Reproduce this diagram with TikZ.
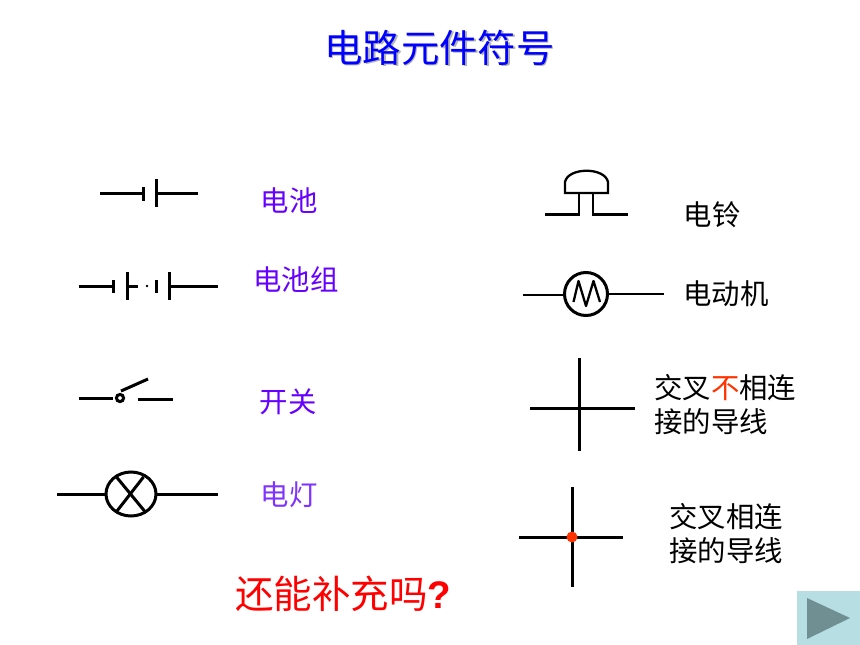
\documentclass[tikz,border=0pt]{standalone}
\usepackage{fontspec}
\setmainfont{Liberation Sans}
\newfontfamily\cjk{Noto Sans CJK SC}
\usetikzlibrary{shapes}
\definecolor{violetblue}{HTML}{6600FF}
\definecolor{lightviolet}{HTML}{7F33FF}
\definecolor{darkred}{HTML}{FF3300}
\definecolor{buttonbg}{HTML}{B7DEE2}
\definecolor{buttonfg}{HTML}{6F8F93}
\tikzset{
  wire/.style={line width=3pt},
  thinwire/.style={line width=2.3pt},
  namelabel/.style={inner sep=0pt,font=\fontsize{28.4}{28.4}\selectfont\cjk},
  blacklabel/.style={namelabel,anchor=west,align=left},
}
\begin{document}
\begin{tikzpicture}[x=1pt,y=-1pt]
\useasboundingbox (0,0) rectangle (860,645);

\node[inner sep=0pt,font=\fontsize{38.4}{38.4}\selectfont\cjk,text=black!30] (titleshadow) at (441,49) {电路元件符号};
\node[inner sep=0pt,font=\fontsize{38.4}{38.4}\selectfont\cjk,text=blue] (title) at (439.5,47.5) {电路元件符号};

% battery
\draw[wire] (100,193) -- (143,193);
\draw[wire] (143,187) -- (143,201);
\draw[wire] (156,179) -- (156,207);
\draw[wire] (156,193) -- (198,193);
\node[namelabel,text=violetblue] (battery) at (289,201) {电池};

% battery group
\draw[wire] (79,286) -- (113,286);
\draw[wire] (113,280) -- (113,293);
\draw[wire] (127,272) -- (127,300);
\draw[wire] (127,286) -- (138,286);
\fill (147,286) circle (1.4);
\draw[wire] (156,280) -- (156,293);
\draw[wire] (169,272) -- (169,300);
\draw[wire] (169,286) -- (218,286);
\node[namelabel,text=violetblue] (batterygroup) at (296,280) {电池组};

% switch
\draw[wire] (79,398) -- (113,398);
\draw[wire] (120,398) circle (3.6);
\draw[wire] (121,391) -- (148,379);
\draw[wire] (138,399) -- (173,399);
\node[namelabel,text=violetblue] (switch) at (288,402) {开关};

% lamp
\draw[wire] (57,494) -- (106,494);
\draw[wire] (131,494) ellipse (25 and 22);
\draw[wire] (116.5,477) -- (144.5,511);
\draw[wire] (143.5,477) -- (117,511);
\draw[wire] (156,494) -- (218,494);
\node[namelabel,text=lightviolet] (lamp) at (289,494.5) {电灯};

% bell
\draw[thinwire] (565,193) -- (565,182) .. controls (568,167) and (605,167) .. (608,182) -- (608,193) -- cycle;
\draw[thinwire] (545,214.5) -- (579,214.5) -- (579,193);
\draw[thinwire] (593,193) -- (593,214.5) -- (628,214.5);
\node[namelabel,anchor=center] (bell) at (712,215) {电铃};

% motor
\draw[thinwire] (523,295) -- (564,295);
\draw[wire] (586,294) circle (21.5);
\draw[thinwire,line join=round] (573.5,302) -- (578.5,281) -- (586,306) -- (593.5,281) -- (600,302);
\draw[thinwire] (608,294) -- (664,294);
\node[namelabel] (motor) at (726,294) {电动机};

% crossing, not joined
\draw[wire] (579,358) -- (579,451);
\draw[wire] (530,408) -- (635,408);
\node[blacklabel] (nojoinA) at (654,387.5) {交叉\textcolor{darkred}{不}相连};
\node[blacklabel] (nojoinB) at (654,421.5) {接的导线};

% crossing, joined
\draw[wire] (572,487) -- (572,587);
\draw[wire] (519,537) -- (623,537);
\fill[darkred] (572,537) circle (5.5);
\node[blacklabel] (joinA) at (669,516.5) {交叉相连};
\node[blacklabel] (joinB) at (669,550.5) {接的导线};

\node[inner sep=0pt,text=red,font=\fontsize{38.5}{38.5}\selectfont] (more) at (343.5,594) {{\cjk 还能补充吗}\textbf{?}};

% next button
\fill[buttonbg] (797,591) rectangle (860,645);
\fill[buttonfg] (807,598) -- (850,618) -- (807,639) -- cycle;
\end{tikzpicture}
\end{document}
